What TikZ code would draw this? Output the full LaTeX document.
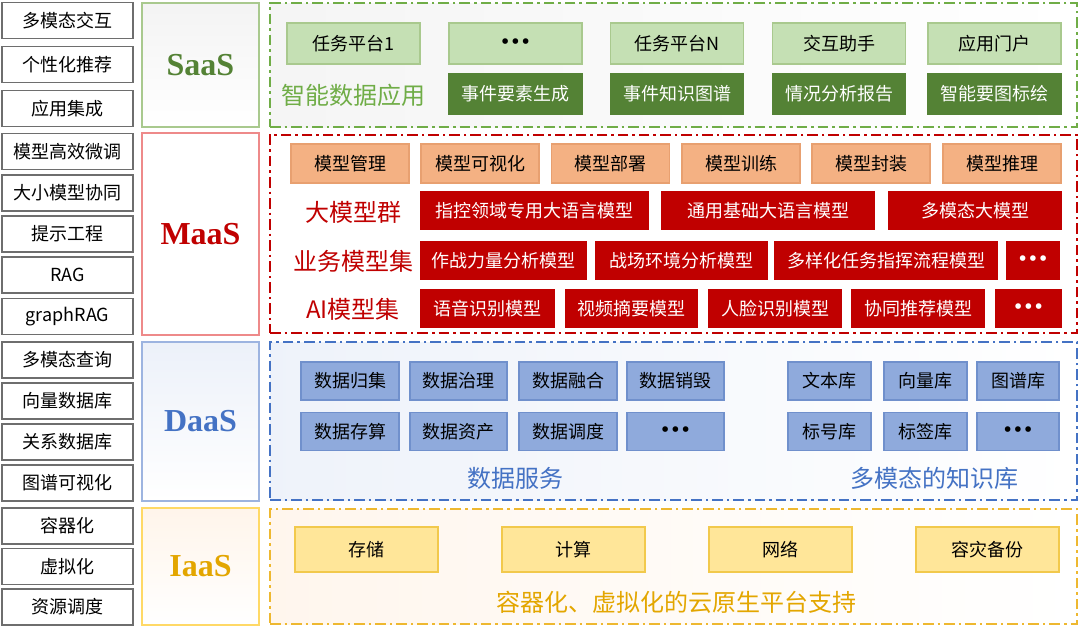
\documentclass[tikz,border=0pt]{standalone}
\usepackage{fontspec}
\setmainfont{Noto Sans CJK SC}
\newfontfamily\layfont{Liberation Serif}
\newfontfamily\dotfont{DejaVu Sans}
\newcommand\mydots{{\dotfont\bfseries\fontsize{12}{14}\selectfont •••}}
\usepackage{tikz}
\usetikzlibrary{positioning}
\definecolor{sidegray}{HTML}{6E6E6E}
\definecolor{saasgreen}{HTML}{548235}
\definecolor{saasline}{HTML}{70AD47}
\definecolor{saaslight}{HTML}{C5E0B4}
\definecolor{saasedge}{HTML}{A9C98E}
\definecolor{maasred}{HTML}{C00000}
\definecolor{maasorange}{HTML}{F4B183}
\definecolor{maasedge}{HTML}{E8A070}
\definecolor{maastag}{HTML}{EE8A8A}
\definecolor{daasblue}{HTML}{4472C4}
\definecolor{daasfill}{HTML}{8FAADC}
\definecolor{daasedge}{HTML}{7090CC}
\definecolor{daastag}{HTML}{9DB4E0}
\definecolor{iaasgold}{HTML}{E3A600}
\definecolor{iaasline}{HTML}{EEB830}
\definecolor{iaasfill}{HTML}{FFE699}
\definecolor{iaasedge}{HTML}{F2C94C}
\definecolor{iaastag}{HTML}{FFD966}

\begin{document}
\begin{tikzpicture}[x=0.75pt, y=-0.75pt,
  every node/.style={font=\fontsize{13.5}{15}\selectfont, inner sep=0pt},
  bw/.style={minimum width=#1*0.75pt},
  bh/.style={minimum height=#1*0.75pt},
  side/.style={draw=sidegray, line width=1.2pt, fill=white, bw=131, bh=36},
  tag/.style ={draw, line width=1pt, bw=117,
               font=\layfont\bfseries\fontsize{24}{26}\selectfont},
  lay/.style ={draw, line width=1.4pt, bw=807,
               dash pattern=on 8pt off 3pt on 1.8pt off 3pt},
  sub/.style ={font=\fontsize{18}{20}\selectfont},
  sa/.style  ={draw=saasedge, fill=saaslight, line width=0.8pt, bw=133, bh=41},
  sad/.style ={sa, draw=saasgreen, fill=saasgreen, text=white},
  ma/.style  ={draw=maasedge, fill=maasorange, line width=0.8pt, bw=118, bh=39},
  mad/.style ={draw=maasred, fill=maasred, text=white, line width=0.8pt, bh=37},
  da/.style  ={draw=daasedge, fill=daasfill, line width=0.8pt, bh=38},
  ia/.style  ={draw=iaasedge, fill=iaasfill, line width=0.8pt, bw=143, bh=45}
]
\useasboundingbox (0,0) rectangle (1080,628);

%% ─── left column ───────────────────────────────────────────────────────────
\foreach \t/\y [count=\i] in {多模态交互/20.5, 个性化推荐/64.5, 应用集成/108.5,
    模型高效微调/151.5, 大小模型协同/193, 提示工程/234, RAG/275, graphRAG/316.5,
    多模态查询/360, 向量数据库/401, 关系数据库/442, 图谱可视化/483,
    容器化/526, 虚拟化/566.5, 资源调度/607}
  \node[side] (sd\i) at (67.5,\y) {\t};

%% ─── layer tags ────────────────────────────────────────────────────────────
\node[tag, draw=saasedge, top color=gray!9, bottom color=white, text=saasgreen, bh=124]
     (sa_l) at (200.5,65) {SaaS};
\node[tag, draw=maastag, fill=white, text=maasred, bh=202]
     (ma_l) at (200.5,234) {MaaS};
\node[tag, draw=daastag, top color=daasblue!10, bottom color=white, text=daasblue, bh=159]
     (da_l) at (200.5,421.5) {DaaS};
\node[tag, draw=iaastag, top color=orange!8, bottom color=white, text=iaasgold, bh=117]
     (ia_l) at (200.5,566.5) {IaaS};

%% ─── SaaS ──────────────────────────────────────────────────────────────────
\node[lay, draw=saasline, left color=gray!8, right color=white, bh=124]
     (sa_f) at (673.5,65) {};
\node[sa]  (sa_p1)  at (353.5,43.5) {任务平台1};
\node[sa]  (sa_dt)  at (515.5,43.5) {\mydots};
\node[sa]  (sa_pn)  at (677,43.5)   {任务平台N};
\node[sa]  (sa_zs)  at (839,43.5)   {交互助手};
\node[sa]  (sa_mh)  at (994.5,43.5) {应用门户};
\node[sub, text=saasline] (sa_t) at (353,95) {智能数据应用};
\node[sad] (sa_sj)  at (515.5,94)   {事件要素生成};
\node[sad] (sa_tp)  at (677,94)     {事件知识图谱};
\node[sad] (sa_bg)  at (839,94)     {情况分析报告};
\node[sad] (sa_bh)  at (994.5,94)   {智能要图标绘};

%% ─── MaaS ──────────────────────────────────────────────────────────────────
\node[lay, draw=maasred, fill=white, bh=198] (ma_f) at (673.5,234) {};
\node[ma] (ma_gl) at (350,163.5)   {模型管理};
\node[ma] (ma_ks) at (480,163.5)   {模型可视化};
\node[ma] (ma_bs) at (610.5,163.5) {模型部署};
\node[ma] (ma_xl) at (741,163.5)   {模型训练};
\node[ma] (ma_fz) at (871,163.5)   {模型封装};
\node[ma] (ma_tl) at (1002,163.5)  {模型推理};

\node[sub, text=maasred] (ma_t1) at (353,212) {大模型群};
\node[mad, bw=227] (ma_zk) at (534.5,210.5) {指控领域专用大语言模型};
\node[mad, bw=212] (ma_ty) at (768,210.5)   {通用基础大语言模型};
\node[mad, bw=172] (ma_dm) at (975,210.5)   {多模态大模型};

\node[sub, text=maasred] (ma_t2) at (353,261) {业务模型集};
\node[mad, bw=165] (ma_ll) at (503.5,260.5) {作战力量分析模型};
\node[mad, bw=171] (ma_hj) at (681.5,260.5) {战场环境分析模型};
\node[mad, bw=222] (ma_lc) at (886,260.5)   {多样化任务指挥流程模型};
\node[mad, bw=52]  (ma_d1) at (1033,260.5)  {\mydots};

\node[sub, text=maasred] (ma_t3) at (353,309) {AI模型集};
\node[mad, bw=133] (ma_yy) at (487.5,308.5) {语音识别模型};
\node[mad, bw=131] (ma_sp) at (631.5,308.5) {视频摘要模型};
\node[mad, bw=132] (ma_rl) at (775,308.5)   {人脸识别模型};
\node[mad, bw=132] (ma_xt) at (918,308.5)   {协同推荐模型};
\node[mad, bw=65]  (ma_d2) at (1028.5,308.5){\mydots};

%% ─── DaaS ──────────────────────────────────────────────────────────────────
\node[lay, draw=daasblue, left color=daasblue!9, right color=white, bh=158]
     (da_f) at (673.5,421) {};
\node[da, bw=98] (da_gj) at (350,381)    {数据归集};
\node[da, bw=97] (da_zl) at (458.5,381)  {数据治理};
\node[da, bw=98] (da_rh) at (568,381)    {数据融合};
\node[da, bw=97] (da_xh) at (675.5,381)  {数据销毁};
\node[da, bw=98] (da_cs) at (350,431.5)  {数据存算};
\node[da, bw=97] (da_zc) at (458.5,431.5){数据资产};
\node[da, bw=98] (da_dd) at (568,431.5)  {数据调度};
\node[da, bw=97] (da_d1) at (675.5,431.5){\mydots};
\node[da, bw=83] (da_wb) at (829.5,381)  {文本库};
\node[da, bw=83] (da_xl) at (925.5,381)  {向量库};
\node[da, bw=82] (da_tp) at (1018,381)   {图谱库};
\node[da, bw=83] (da_bh) at (829.5,431.5){标号库};
\node[da, bw=83] (da_bq) at (925.5,431.5){标签库};
\node[da, bw=82] (da_d2) at (1018,431.5) {\mydots};
\node[sub, text=daasblue] (da_t1) at (515,478) {数据服务};
\node[sub, text=daasblue] (da_t2) at (934,478) {多模态的知识库};

%% ─── IaaS ──────────────────────────────────────────────────────────────────
\node[lay, draw=iaasline, left color=orange!7, right color=white, bh=115]
     (ia_f) at (673.5,566.5) {};
\node[ia] (ia_cc) at (366.5,549.5) {存储};
\node[ia] (ia_js) at (573.5,549.5) {计算};
\node[ia] (ia_wl) at (780.5,549.5) {网络};
\node[ia] (ia_rz) at (987.5,549.5) {容灾备份};
\node[sub, text=iaasgold] (ia_t) at (676,602) {容器化、虚拟化的云原生平台支持};

\end{tikzpicture}
\end{document}
